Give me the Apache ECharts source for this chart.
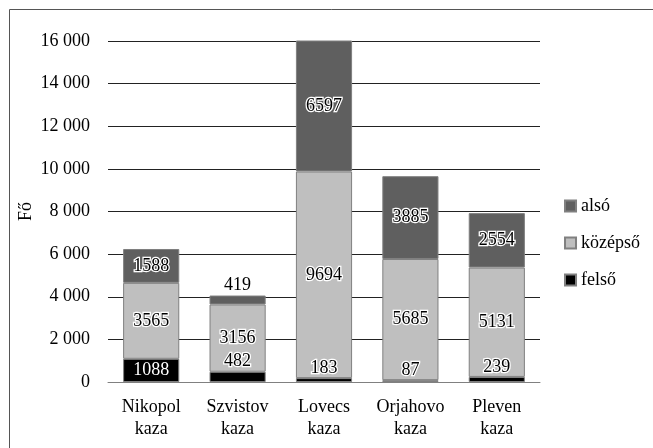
<!DOCTYPE html>
<html><head><meta charset="utf-8">
<script src="https://cdn.jsdelivr.net/npm/echarts@6/dist/echarts.min.js"></script>
<style>html,body{margin:0;padding:0;background:#fff}#c{width:653px;height:448px}</style>
</head><body><div id="c"></div>
<script>
var categories = ['Nikopol\nkaza', 'Szvistov\nkaza', 'Lovecs\nkaza', 'Orjahovo\nkaza', 'Pleven\nkaza'];
var felso = [1088, 482, 183, 87, 239];
var kozepso = [3565, 3156, 9694, 5685, 5131];
var also = [1588, 419, 6597, 3885, 2554];
var seriesNames = ['felső', 'középső', 'alsó'];
var yMax = 16000, yStep = 2000;

var FONT = '"Liberation Serif", "Times New Roman", serif';
function items(arr, inner) {
  return arr.map(function (v) {
    var small = v < 500;
    return {
      value: v,
      label: {
        position: small ? 'top' : 'inside',
        color: (inner && !small) ? '#fff' : '#000',
        textBorderColor: (inner && !small) ? '#000' : '#fff',
        textBorderWidth: 2.5
      }
    };
  });
}
var colors = ['#000000', '#bfbfbf', '#5f5f5f'];
var datas = [felso, kozepso, also];
var series = datas.map(function (d, i) {
  return {
    name: seriesNames[i], type: 'bar', stack: 'a', barCategoryGap: '35%',
    clip: true,
    itemStyle: { color: colors[i], borderColor: '#808080', borderWidth: 1 },
    label: { show: true, fontFamily: FONT, fontSize: 18, distance: 1 },
    data: items(d, i === 0)
  };
});
var chart = echarts.init(document.getElementById('c'));
chart.setOption({
  animation: false,
  graphic: [{ type: 'rect', left: 7, top: 7, shape: { width: 700, height: 500 }, style: { fill: 'none', stroke: '#555', lineWidth: 1 }, z: -1 }],
  grid: { left: 108, right: 113, top: 41, bottom: 66 },
  legend: {
    orient: 'vertical', right: 8, top: 192, itemWidth: 11, itemHeight: 11, itemGap: 19,
    data: ['alsó', 'középső', 'felső'],
    textStyle: { fontFamily: FONT, fontSize: 18, color: '#000' },
    icon: 'rect'
  },
  xAxis: {
    type: 'category', data: categories,
    axisLine: { lineStyle: { color: '#808080' } }, axisTick: { show: false },
    axisLabel: { interval: 0, fontFamily: FONT, fontSize: 18, color: '#000', lineHeight: 22, margin: 14 }
  },
  yAxis: {
    type: 'value', min: 0, max: yMax, interval: yStep,
    name: 'Fő', nameLocation: 'middle', nameGap: 73, nameRotate: 90, nameMoveOverlap: false,
    nameTextStyle: { fontFamily: FONT, fontSize: 18, color: '#000' },
    axisLine: { show: false }, axisTick: { show: false },
    splitLine: { lineStyle: { color: '#222', width: 1 } },
    axisLabel: {
      fontFamily: FONT, fontSize: 18, color: '#000', margin: 18,
      formatter: function (v) { return String(v).replace(/\B(?=(\d{3})+(?!\d))/g, ' '); }
    }
  },
  series: series
});
</script></body></html>
